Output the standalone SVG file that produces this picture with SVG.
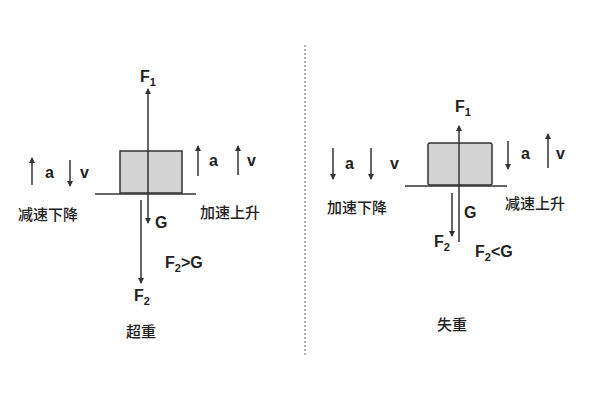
<svg xmlns="http://www.w3.org/2000/svg" width="600" height="400" viewBox="0 0 600 400">
<defs>
<marker id="ah" viewBox="0 0 6 6" refX="5" refY="3" markerWidth="4" markerHeight="4" orient="auto"><path d="M0,0L6,3L0,6z" fill="#333"/></marker>
<style>
.t{font-family:"Liberation Sans",Arial,sans-serif;font-size:16px;fill:#222;font-weight:bold}
.c{font-family:"Noto Sans CJK SC",sans-serif;font-size:15px;fill:#222;font-weight:500}
.l{stroke:#333;stroke-width:1.5;fill:none}
.a{stroke:#333;stroke-width:1.5;fill:none;marker-end:url(#ah)}
.box{fill:#d3d3d3;stroke:#333;stroke-width:1.5}
</style>
</defs>
<rect width="600" height="400" fill="#fff"/>
<line x1="305" y1="45" x2="305" y2="355" stroke="#999" stroke-width="1.5" stroke-dasharray="2,2"/>
<g id="left">
<rect class="box" x="120" y="151" width="62" height="42"/>
<line class="l" x1="95" y1="194" x2="196" y2="194"/>
</g>
<g id="right">
<rect class="box" x="428" y="143" width="64" height="42" rx="2"/>
<line class="l" x1="405" y1="186" x2="507" y2="186"/>
</g>
<g id="connectors">
<line class="a" x1="148" y1="193" x2="148" y2="89"/>
<line class="a" x1="148" y1="194" x2="148" y2="223"/>
<line class="a" x1="141" y1="200" x2="141" y2="283"/>
<line class="a" x1="32" y1="185" x2="32" y2="158"/>
<line class="a" x1="70" y1="160" x2="70" y2="186"/>
<line class="a" x1="198" y1="176" x2="198" y2="146"/>
<line class="a" x1="238" y1="175" x2="238" y2="146"/>
<line class="a" x1="459" y1="242" x2="459" y2="126"/>
<line class="a" x1="452" y1="193" x2="452" y2="236"/>
<line class="a" x1="333" y1="148" x2="333" y2="179"/>
<line class="a" x1="371" y1="148" x2="371" y2="179"/>
<line class="a" x1="508" y1="141" x2="508" y2="169"/>
<line class="a" x1="548" y1="168" x2="548" y2="134"/>
</g>
<g id="labels">
<text class="t" x="140" y="82">F<tspan font-size="11" dy="4">1</tspan></text>
<text class="t" x="155" y="228">G</text>
<text class="t" x="165" y="268">F<tspan font-size="11" dy="4">2</tspan><tspan dy="-4">&gt;G</tspan></text>
<text class="t" x="134" y="301">F<tspan font-size="11" dy="4">2</tspan></text>
<text class="t" x="45" y="178">a</text>
<text class="t" x="80" y="178">v</text>
<text class="t" x="209" y="166">a</text>
<text class="t" x="247" y="166">v</text>
<text class="c" x="18" y="220">减速下降</text>
<text class="c" x="200" y="218">加速上升</text>
<text class="c" x="126" y="337">超重</text>
<text class="t" x="455" y="112">F<tspan font-size="11" dy="4">1</tspan></text>
<text class="t" x="464" y="218">G</text>
<text class="t" x="434" y="247">F<tspan font-size="11" dy="4">2</tspan></text>
<text class="t" x="475" y="257">F<tspan font-size="11" dy="4">2</tspan><tspan dy="-4">&lt;G</tspan></text>
<text class="t" x="345" y="169">a</text>
<text class="t" x="390" y="169">v</text>
<text class="t" x="521" y="159">a</text>
<text class="t" x="556" y="159">v</text>
<text class="c" x="327" y="213">加速下降</text>
<text class="c" x="505" y="209">减速上升</text>
<text class="c" x="437" y="330">失重</text>
</g>
</svg>
